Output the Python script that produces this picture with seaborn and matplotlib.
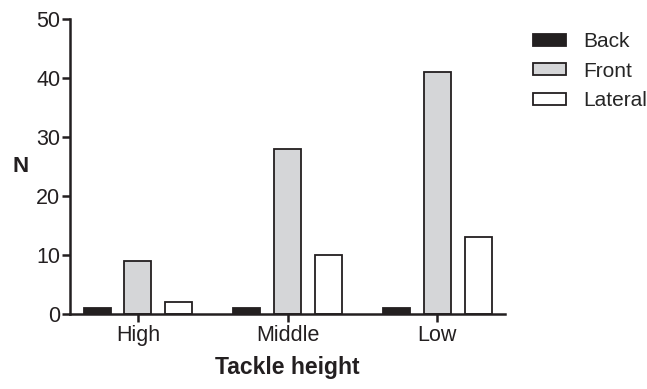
import pandas as pd
import matplotlib
matplotlib.use('Agg')
import matplotlib.pyplot as plt
import seaborn as sns

# data
heights = ['High', 'Middle', 'Low']
directions = ['Back', 'Front', 'Lateral']
back = [1, 1, 1]
front = [9, 28, 41]
lateral = [2, 10, 13]

rows = []
for i, h in enumerate(heights):
    rows.append([h, 'Back', back[i]])
    rows.append([h, 'Front', front[i]])
    rows.append([h, 'Lateral', lateral[i]])
df = pd.DataFrame(rows, columns=['height', 'direction', 'n'])

sns.set_style('white')
plt.rcParams['font.family'] = ['Liberation Sans', 'DejaVu Sans']
fs = 15.5

fig = plt.figure(figsize=(6.47, 3.89), dpi=100)
ax = fig.add_axes([0.108, 0.193, 0.673, 0.758])

colors = {'Back': '#231f20', 'Front': '#d5d6d8', 'Lateral': '#ffffff'}
sns.barplot(data=df, x='height', y='n', hue='direction', order=heights,
            hue_order=directions, palette=colors, width=0.82, gap=0.34,
            edgecolor='#231f20', linewidth=1.3, ax=ax)

ax.set_xlim(-0.455, 2.455)
ax.set_ylim(0, 50)
ax.set_yticks([0, 10, 20, 30, 40, 50])
sns.despine(ax=ax)
for s in ['left', 'bottom']:
    ax.spines[s].set_linewidth(1.8)
    ax.spines[s].set_color('#231f20')
ax.tick_params(axis='both', bottom=True, left=True, direction='out',
               length=6, width=1.8, color='#231f20', labelsize=fs,
               labelcolor='#231f20')
ax.tick_params(axis='x', pad=2)
ax.tick_params(axis='y', pad=1)

ax.set_ylabel('N', fontweight='bold', rotation=0, fontsize=16, labelpad=11,
              va='center', color='#231f20')
ax.set_xlabel('Tackle height', fontweight='bold', fontsize=16.5, labelpad=7,
              color='#231f20')

ax.legend(loc='upper left', bbox_to_anchor=(1.031, 1.005), frameon=False,
          handlelength=1.55, handleheight=0.5, handletextpad=0.82,
          labelspacing=0.5, fontsize=15, borderpad=0.2)

plt.savefig('out.png', dpi=100)
